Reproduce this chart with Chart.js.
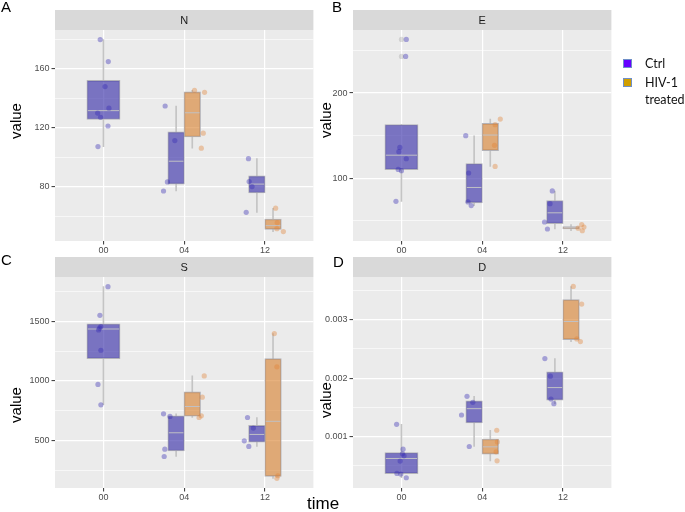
<!DOCTYPE html>
<html>
<head>
<meta charset="utf-8">
<script src="https://cdn.jsdelivr.net/npm/chart.js@4.4.1/dist/chart.umd.min.js"></script>
<style>
  body { margin: 0; background: #fff; width: 685px; height: 512px; position: relative; overflow: hidden;
         font-family: "Liberation Sans", Arial, sans-serif; }
  canvas { position: absolute; }
  .txt { position: absolute; color: #000; white-space: nowrap; }
  .ytitle { font-size: 15px; line-height: 16px; transform: translate(-50%, -50%) rotate(-90deg); }
  .letter { font-size: 15px; line-height: 16px; }
  .key { position: absolute; width: 9px; height: 9px; box-sizing: border-box; border: 1px solid #6f8fc8; }
  .leg { position: absolute; font-family: Lato, "Open Sans", sans-serif; font-size: 12.5px; line-height: 14px; color: #111; }
</style>
</head>
<body>
<canvas id="cN" width="330" height="265" style="left:0;top:0"></canvas>
<canvas id="cE" width="330" height="265" style="left:298px;top:0"></canvas>
<canvas id="cS" width="330" height="265" style="left:0;top:247px"></canvas>
<canvas id="cD" width="330" height="265" style="left:298px;top:247px"></canvas>

<div class="txt letter" style="left:1px;top:-1px">A</div>
<div class="txt letter" style="left:332px;top:-1px">B</div>
<div class="txt letter" style="left:1px;top:252px">C</div>
<div class="txt letter" style="left:333px;top:254px">D</div>

<div class="txt ytitle" style="left:16px;top:121px">value</div>
<div class="txt ytitle" style="left:326px;top:120px">value</div>
<div class="txt ytitle" style="left:16px;top:405px">value</div>
<div class="txt ytitle" style="left:326px;top:400px">value</div>
<div class="txt" style="left:307px;top:495px;font-size:17px;line-height:18px">time</div>

<div class="key" style="left:623px;top:59px;background:#6600ff"></div>
<div class="key" style="left:623px;top:78px;background:#d09e00"></div>
<div class="leg" style="left:645px;top:57px">Ctrl</div>
<div class="leg" style="left:645px;top:76px">HIV-1</div>
<div class="leg" style="left:645px;top:93px">treated</div>

<script>
// categories
const times = ['00', '04', '12'];

// N panel: values per time point, and jitter offsets
const nCtrl = [[180, 165, 148, 133.3, 130, 127.1, 121.2, 107.2], [134.8, 111.3, 83.2, 77], [99, 83.4, 80, 62.5]];
const nCtrlJit = [[-0.04, 0.06, 0.02, 0.068, -0.072, -0.036, 0.056, -0.068], [-0.236, -0.116, -0.208, -0.256], [-0.204, -0.196, -0.16, -0.232]];
const nHiv = [null, [145.5, 144.1, 116.3, 106.1], [65.3, 55.5, 51.4, 49.4]];
const nHivJit = [null, [0.128, 0.252, 0.236, 0.212], [0.132, 0.152, 0.148, 0.228]];
const nTicks = [80, 120, 160];

// E panel
const eCtrl = [[262.9, 243, 136.3, 131.3, 123, 110.5, 109, 73], [150, 106.25, 72.3, 68], [85.2, 70.3, 48.8, 40.6]];
const eCtrlJit = [[0.06, 0.052, -0.02, -0.032, 0.06, -0.04, 0, -0.068], [-0.204, -0.168, -0.176, -0.136], [-0.132, -0.16, -0.228, -0.192]];
const eHiv = [null, [169.5, 162.9, 138.7, 114], [45.8, 42.8, 38.5, 41.5]];
const eHivJit = [null, [0.224, 0.16, 0.152, 0.16], [0.232, 0.26, 0.24, 0.188]];
const eTicks = [100, 200];

// S panel
const sCtrl = [[1794, 1553, 1458, 1445, 1430, 1259, 971, 800], [724, 702, 427, 365], [693, 604, 497, 450]];
const sCtrlJit = [[0.056, -0.044, -0.032, -0.048, -0.06, -0.032, -0.068, -0.032], [-0.256, -0.176, -0.24, -0.248], [-0.216, -0.144, -0.256, -0.2]];
const sHiv = [null, [1043, 864, 707, 693], [1399, 1119, 203, 181]];
const sHivJit = [null, [0.248, 0.224, 0.212, 0.184], [0.116, 0.148, 0.16, 0.148]];
const sTicks = [500, 1000, 1500];

// D panel
const dCtrl = [[0.00121, 0.000784, 0.000705, 0.00067, 0.00058, 0.000369, 0.000358, 0.000295],
               [0.001688, 0.001585, 0.001369, 0.00083], [0.002335, 0.002034, 0.001642, 0.001563]];
const dCtrlJit = [[-0.06, 0.02, 0.012, 0.032, -0.016, -0.056, -0.008, 0.06], [-0.188, -0.116, -0.256, -0.16], [-0.224, -0.156, -0.148, -0.112]];
const dHiv = [null, [0.001108, 0.000909, 0.000739, 0.000585], [0.003568, 0.003267, 0.00267, 0.002625]];
const dHivJit = [null, [0.18, 0.188, 0.172, 0.184], [0.128, 0.232, 0.172, 0.216]];
const dTicks = [0.001, 0.002, 0.003];
const dTickLabels = ['0.001', '0.002', '0.003'];

const CTRL_BOX = 'rgba(60,50,170,0.65)';
const HIV_BOX = 'rgba(215,125,40,0.6)';
const CTRL_PT = 'rgba(50,40,180,0.38)';
const HIV_PT = 'rgba(225,130,50,0.38)';
const OUT_PT = 'rgba(150,150,150,0.3)';
const BOX_LINE = 'rgba(172,172,178,0.9)';
const MED_LINE = 'rgba(192,192,196,1)';
const WHISK = 'rgba(196,196,196,1)';
const DODGE = 0.1;
const DODGE_W = 16.6;
const SOLO_W = 33.2;

Chart.defaults.font.family = '"Liberation Sans", Arial, sans-serif';

function quantile(s, p) {
  const pos = (s.length - 1) * p;
  const lo = Math.floor(pos), hi = Math.ceil(pos);
  return s[lo] + (s[hi] - s[lo]) * (pos - lo);
}

function boxStats(vals) {
  const s = vals.slice().sort((a, b) => a - b);
  const q1 = quantile(s, 0.25), med = quantile(s, 0.5), q3 = quantile(s, 0.75);
  const iqr = q3 - q1;
  const inside = s.filter(v => v >= q1 - 1.5 * iqr && v <= q3 + 1.5 * iqr);
  return {
    q1, med, q3,
    lo: Math.min(q1, inside[0]),
    hi: Math.max(q3, inside[inside.length - 1]),
    out: s.filter(v => inside.indexOf(v) < 0)
  };
}

// panel background and grey strip with the facet name
const facetPlugin = {
  id: 'facet',
  beforeDraw(chart, args, opts) {
    const { ctx, chartArea: a } = chart;
    ctx.save();
    ctx.fillStyle = '#ebebeb';
    ctx.fillRect(a.left, a.top, a.right - a.left, a.bottom - a.top);
    ctx.fillStyle = '#d9d9d9';
    ctx.fillRect(a.left, a.top - 20, a.right - a.left, 20);
    ctx.fillStyle = '#1a1a1a';
    ctx.font = '11px "Liberation Sans", Arial, sans-serif';
    ctx.textAlign = 'center';
    ctx.textBaseline = 'middle';
    ctx.fillText(opts.label, (a.left + a.right) / 2, a.top - 9.5);
    ctx.restore();
  }
};

function buildPanel(id, p) {
  const pts = { ctrl: [], hiv: [] };
  const boxes = { solo: [], ctrl: [], hiv: [] };
  const meds = { solo: [], dodge: [] };
  const whisk = [], outl = [];

  times.forEach((t, i) => {
    const solo = !p.hiv[i];
    [['ctrl', p.ctrl[i], p.ctrlJit[i]], ['hiv', p.hiv[i], p.hivJit[i]]].forEach(([g, vals, jit]) => {
      if (!vals) return;
      const cx = solo ? i : i + (g === 'ctrl' ? -DODGE : DODGE);
      const s = boxStats(vals);
      vals.forEach((v, k) => pts[g].push({ x: i + jit[k], y: v }));
      (solo ? boxes.solo : boxes[g]).push({ x: cx, y: [s.q1, s.q3] });
      (solo ? meds.solo : meds.dodge).push({ x: cx, y: s.med });
      whisk.push({ x: cx, y: [s.lo, s.q1] }, { x: cx, y: [s.q3, s.hi] });
      s.out.forEach(v => outl.push({ x: cx, y: v }));
    });
  });

  // minor grid lines halfway between the labelled ones
  const step = p.ticks[1] - p.ticks[0];
  const yAll = [];
  for (let v = p.ticks[0] - step / 2; v <= p.max; v += step / 2) {
    if (v >= p.min) yAll.push(v);
  }
  p.ticks.forEach(v => { if (yAll.indexOf(v) < 0) yAll.push(v); });
  const isMajor = v => p.ticks.indexOf(v) >= 0;
  const labels = p.tickLabels || p.ticks.map(String);

  new Chart(document.getElementById(id), {
    type: 'scatter',
    data: {
      datasets: [
        { data: pts.ctrl, backgroundColor: CTRL_PT, pointRadius: 2.6, pointBorderWidth: 0, order: 1 },
        { data: pts.hiv, backgroundColor: HIV_PT, pointRadius: 2.6, pointBorderWidth: 0, order: 1 },
        { data: outl, backgroundColor: OUT_PT, pointRadius: 2.6, pointBorderWidth: 0, order: 2 },
        { data: meds.solo, pointStyle: 'line', pointRadius: SOLO_W / 2 - 1, pointBorderColor: MED_LINE, pointBorderWidth: 1, order: 3 },
        { data: meds.dodge, pointStyle: 'line', pointRadius: DODGE_W / 2 - 1, pointBorderColor: MED_LINE, pointBorderWidth: 1, order: 3 },
        { type: 'bar', data: boxes.solo, barThickness: SOLO_W, backgroundColor: CTRL_BOX, borderColor: BOX_LINE,
          borderWidth: 1, borderSkipped: false, stack: 'b', order: 4 },
        { type: 'bar', data: boxes.ctrl, barThickness: DODGE_W, backgroundColor: CTRL_BOX, borderColor: BOX_LINE,
          borderWidth: 1, borderSkipped: false, stack: 'b', order: 4 },
        { type: 'bar', data: boxes.hiv, barThickness: DODGE_W, backgroundColor: HIV_BOX, borderColor: BOX_LINE,
          borderWidth: 1, borderSkipped: false, stack: 'b', order: 4 },
        { type: 'bar', data: whisk, barThickness: 1, backgroundColor: WHISK, borderWidth: 0, stack: 'b', order: 5 }
      ]
    },
    options: {
      responsive: false,
      animation: false,
      events: [],
      layout: { padding: { top: 30, right: p.right, left: 0, bottom: 0 } },
      plugins: { legend: { display: false }, tooltip: { enabled: false }, facet: { label: p.label } },
      scales: {
        x: {
          type: 'linear', min: -0.6, max: 2.6, offset: false,
          border: { display: false },
          grid: { color: '#fff', lineWidth: 1.2, tickColor: '#333', tickLength: 3.5, tickWidth: 1, offset: false },
          ticks: { color: '#4d4d4d', font: { size: 9 }, padding: 1, autoSkip: false, maxRotation: 0,
                   callback: (v, i) => times[i] },
          afterBuildTicks: s => { s.ticks = times.map((t, i) => ({ value: i })); },
          afterFit: s => { s.height = 24; }
        },
        y: {
          type: 'linear', min: p.min, max: p.max, stacked: false,
          border: { display: false },
          grid: {
            color: '#fff',
            lineWidth: c => (c.tick && isMajor(c.tick.value)) ? 1.2 : 0.6,
            tickColor: c => (c.tick && isMajor(c.tick.value)) ? '#333' : 'rgba(0,0,0,0)',
            tickLength: 3.5, tickWidth: 1
          },
          ticks: { color: '#4d4d4d', font: { size: 9 }, padding: 2, autoSkip: false,
                   callback: v => { const k = p.ticks.indexOf(v); return k >= 0 ? labels[k] : ''; } },
          afterBuildTicks: s => { s.ticks = yAll.slice().sort((a, b) => a - b).map(v => ({ value: v })); },
          afterFit: s => { s.width = 55; }
        }
      }
    },
    plugins: [facetPlugin]
  });
}

buildPanel('cN', { label: 'N', ctrl: nCtrl, ctrlJit: nCtrlJit, hiv: nHiv, hivJit: nHivJit, min: 43, max: 186.5, ticks: nTicks, right: 8 });
buildPanel('cE', { label: 'E', ctrl: eCtrl, ctrlJit: eCtrlJit, hiv: eHiv, hivJit: eHivJit, min: 26.5, max: 274, ticks: eTicks, right: 10 });
buildPanel('cS', { label: 'S', ctrl: sCtrl, ctrlJit: sCtrlJit, hiv: sHiv, hivJit: sHivJit, min: 100, max: 1875, ticks: sTicks, right: 8 });
buildPanel('cD', { label: 'D', ctrl: dCtrl, ctrlJit: dCtrlJit, hiv: dHiv, hivJit: dHivJit, min: 0.00012, max: 0.00373,
                   ticks: dTicks, tickLabels: dTickLabels, right: 10 });
</script>
</body>
</html>
